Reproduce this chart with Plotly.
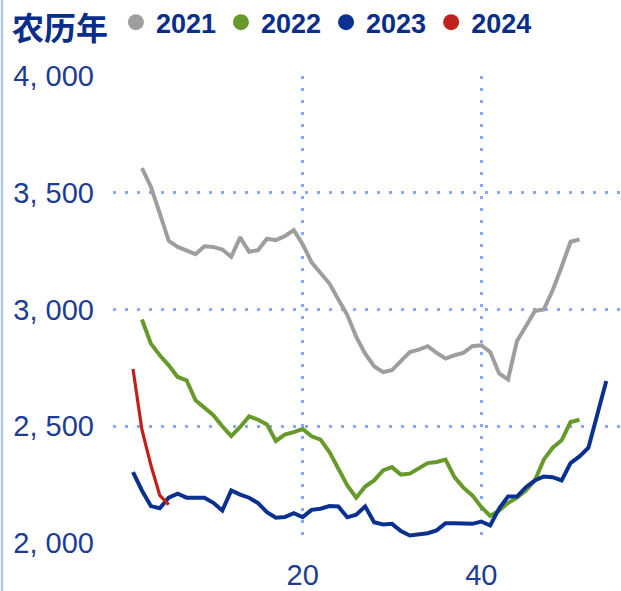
import plotly.graph_objects as go

# ---- data ----
years = ["2021", "2022", "2023", "2024"]
colors = ["#9e9e9e", "#669a2b", "#0b3190", "#c0211b"]

x2021 = list(range(2, 52))
v2021 = [3605, 3526, 3412, 3294, 3268, 3253, 3237, 3271, 3268, 3257, 3226, 3309,
         3247, 3254, 3303, 3297, 3314, 3340, 3280, 3202, 3154, 3111, 3043, 2976,
         2883, 2811, 2757, 2732, 2740, 2780, 2818, 2828, 2843, 2814, 2790, 2804,
         2814, 2843, 2847, 2818, 2726, 2700, 2865, 2928, 2994, 3000, 3083, 3183,
         3290, 3300]

x2022 = list(range(2, 52))
v2022 = [2957, 2854, 2804, 2761, 2711, 2697, 2611, 2580, 2547, 2500, 2458, 2497,
         2542, 2528, 2508, 2437, 2464, 2475, 2488, 2457, 2443, 2389, 2318, 2247,
         2194, 2242, 2268, 2311, 2325, 2293, 2297, 2318, 2342, 2347, 2357, 2282,
         2237, 2204, 2154, 2116, 2139, 2171, 2194, 2225, 2268, 2357, 2408, 2440,
         2518, 2528]

x2023 = list(range(1, 55))
v2023 = [2304, 2225, 2158, 2149, 2194, 2211, 2194, 2194, 2194, 2172, 2139, 2225,
         2207, 2194, 2171, 2132, 2108, 2111, 2128, 2111, 2142, 2147, 2158, 2156,
         2110, 2121, 2157, 2089, 2079, 2082, 2051, 2032, 2035, 2042, 2054, 2085,
         2085, 2085, 2082, 2092, 2075, 2147, 2199, 2199, 2239, 2268, 2285, 2282,
         2268, 2342, 2371, 2408, 2554, 2694]

x2024 = list(range(1, 6))
v2024 = [2745, 2485, 2334, 2204, 2164]

y_ticks = [2000, 2500, 3000, 3500, 4000]
y_ticktext = [f"{v:,}".replace(",", ", ") for v in y_ticks]
x_ticks = [20, 40]

legend_title = "农历年"

xs = [x2021, x2022, x2023, x2024]
vs = [v2021, v2022, v2023, v2024]
widths = [4.0, 4.0, 4.0, 3.2]

TEXT = "#0b2d8a"
TICK = "#1d3c92"
GRID = "#8aa8f6"

fig = go.Figure()
for name, c, x, v, w in zip(years, colors, xs, vs, widths):
    fig.add_trace(go.Scatter(x=x, y=v, mode="lines", name=name,
                             line=dict(color=c, width=w),
                             showlegend=False, hoverinfo="skip"))
# legend entries with circular symbols
for name, c in zip(years, colors):
    fig.add_trace(go.Scatter(x=[None], y=[None], mode="markers", name=name,
                             marker=dict(color=c, size=16, symbol="circle"),
                             showlegend=True))

fig.update_layout(
    width=621, height=591,
    margin=dict(l=113, r=0, t=76, b=48, autoexpand=False),
    paper_bgcolor="white", plot_bgcolor="white",
    showlegend=True,
    legend=dict(
        orientation="h",
        x=-0.203, xanchor="left",
        y=1.111, yanchor="middle",
        title=dict(text=legend_title,
                   font=dict(family="Noto Sans CJK SC", size=32, color=TEXT, weight="bold"),
                   side="left"),
        font=dict(family="Liberation Sans", size=27, color=TEXT, weight="bold"),
        itemwidth=30,
        tracegroupgap=0,
        bgcolor="rgba(0,0,0,0)",
    ),
    xaxis=dict(
        range=[-1.24, 55.65],
        tickvals=x_ticks,
        showgrid=True, gridcolor=GRID, gridwidth=2.5, griddash="3px,9px",
        zeroline=False, showline=False, ticks="",
        tickfont=dict(family="Liberation Sans", size=29, color=TICK),
        ticklabelstandoff=12,
    ),
    yaxis=dict(
        range=[2000, 4000],
        tickvals=y_ticks, ticktext=y_ticktext,
        showgrid=True, gridcolor=GRID, gridwidth=2.5, griddash="3px,9px",
        zeroline=False, showline=False, ticks="",
        tickfont=dict(family="Liberation Sans", size=29, color=TICK),
        ticklabelstandoff=18,
    ),
    shapes=[dict(type="line", xref="paper", yref="paper",
                 x0=-0.2185, x1=-0.2185, y0=-0.12, y1=1.18,
                 line=dict(color="#b3c6ee", width=2.5))],
)

fig.write_html("out.html", config={"displayModeBar": False},
               post_script="document.body.style.margin='0';")
